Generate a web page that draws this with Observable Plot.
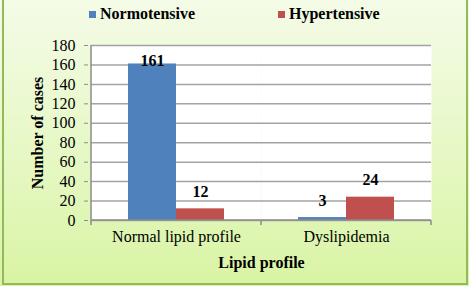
<!DOCTYPE html>
<html>
<head>
<meta charset="utf-8">
<script src="https://cdn.jsdelivr.net/npm/d3@7"></script>
<script src="https://cdn.jsdelivr.net/npm/@observablehq/plot@0.6"></script>
<style>
  html, body { margin: 0; padding: 0; background: #fff; }
  #wrap {
    position: relative; width: 469px; height: 286px; overflow: hidden;
    background: linear-gradient(to bottom, #f4fbe7 0%, #e6f8c4 55%, #d9f4a4 100%);
    font-family: "Liberation Serif", "Times New Roman", serif;
  }
  #border {
    position: absolute; left: 2px; right: 1px; top: -10px; bottom: 1px;
    border: 2px solid #93b95a; pointer-events: none;
  }
  #chart { position: absolute; left: 0; top: 0; }
  #chart svg, #chart svg text { font-family: "Liberation Serif", "Times New Roman", serif !important; }
  .leg { position: absolute; font-weight: bold; font-size: 16px; line-height: 16px; color: #000; white-space: nowrap; }
  .sw { position: absolute; width: 7px; height: 7px; }
  #chart svg g[aria-label="y-axis label"] text,
  #chart svg g[aria-label="fx-axis label"] text { font-weight: bold; }
</style>
</head>
<body>
<div id="wrap">
  <div id="chart"></div>
  <div id="legend"></div>
  <div id="border"></div>
</div>
<script>
const categories = ["Normal lipid profile", "Dyslipidemia"];
const seriesNames = ["Normotensive", "Hypertensive"];
const normotensive = [161, 3];
const hypertensive = [12, 24];
const yTicks = [0, 20, 40, 60, 80, 100, 120, 140, 160, 180];
const seriesColors = ["#4f81bd", "#c0504d"];
const xTitle = "Lipid profile";
const yTitle = "Number of cases";

const seriesValues = [normotensive, hypertensive];
const data = categories.flatMap((c, i) =>
  seriesNames.map((s, j) => ({category: c, series: s, value: seriesValues[j][i]}))
);

const chart = Plot.plot({
  width: 469,
  height: 286,
  marginTop: 45,
  marginBottom: 66,
  marginLeft: 90,
  marginRight: 38,
  style: {background: "transparent", fontFamily: "'Liberation Serif', 'Times New Roman', serif", fontSize: "16px", color: "#000", overflow: "visible"},
  fx: {domain: categories, padding: 0},
  x: {domain: seriesNames, paddingInner: 0, paddingOuter: 0.753, axis: null},
  y: {domain: [0, 180], axis: null},
  color: {domain: seriesNames, range: seriesColors},
  marks: [
    Plot.frame({fill: "white", stroke: null}),
    Plot.ruleY(yTicks, {stroke: "#a3a3a3", strokeWidth: 1.5}),
    Plot.barY(data, {fx: "category", x: "series", y: "value", fill: "series"}),
    Plot.text(data.filter(d => d.value < 150), {fx: "category", x: "series", y: "value", text: d => String(d.value), dy: -17, fontWeight: "bold", fontSize: 16, fill: "#000"}),
    Plot.text(data.filter(d => d.value >= 150), {fx: "category", x: "series", y: "value", text: d => String(d.value), dy: -3, fontWeight: "bold", fontSize: 16, fill: "#000"}),
    Plot.axisY({ticks: yTicks, tickSize: 4, tickPadding: 9, dx: -3, stroke: "#8c8c8c", fill: "#000", fontSize: 16, label: yTitle, labelAnchor: "center", labelArrow: "none", labelOffset: 60}),
    Plot.axisFx({anchor: "bottom", tickSize: 0, tickPadding: 10, fontSize: 16, fill: "#000", label: xTitle, labelAnchor: "center", labelArrow: "none", labelOffset: 47})
  ]
});
document.getElementById("chart").appendChild(chart);

// axis lines and category-boundary ticks drawn from the chart's own scales
const fxS = chart.scale("fx");
const yS = chart.scale("y");
const bw = fxS.bandwidth;
const y0 = yS.apply(0), yTop = yS.apply(180);
const xs = categories.map(c => fxS.apply(c));
const left = xs[0], right = xs[xs.length - 1] + bw;
const g = d3.select(chart).append("g").attr("stroke", "#8c8c8c").attr("stroke-width", 1.5);
g.append("line").attr("x1", left).attr("x2", left).attr("y1", yTop).attr("y2", y0);
g.append("line").attr("x1", left).attr("x2", right).attr("y1", y0).attr("y2", y0);
const bounds = Array.from(new Set(xs.flatMap(x => [x, x + bw])));
for (const b of bounds) g.append("line").attr("x1", b).attr("x2", b).attr("y1", y0).attr("y2", y0 + 5);

// legend
const legend = document.getElementById("legend");
const legX = [89, 278];
seriesNames.forEach((s, i) => {
  const sw = document.createElement("div");
  sw.className = "sw"; sw.style.left = legX[i] + "px"; sw.style.top = "11px"; sw.style.background = seriesColors[i];
  legend.appendChild(sw);
  const t = document.createElement("div");
  t.className = "leg"; t.style.left = (legX[i] + 11) + "px"; t.style.top = "6px"; t.textContent = s;
  legend.appendChild(t);
});
</script>
</body>
</html>
